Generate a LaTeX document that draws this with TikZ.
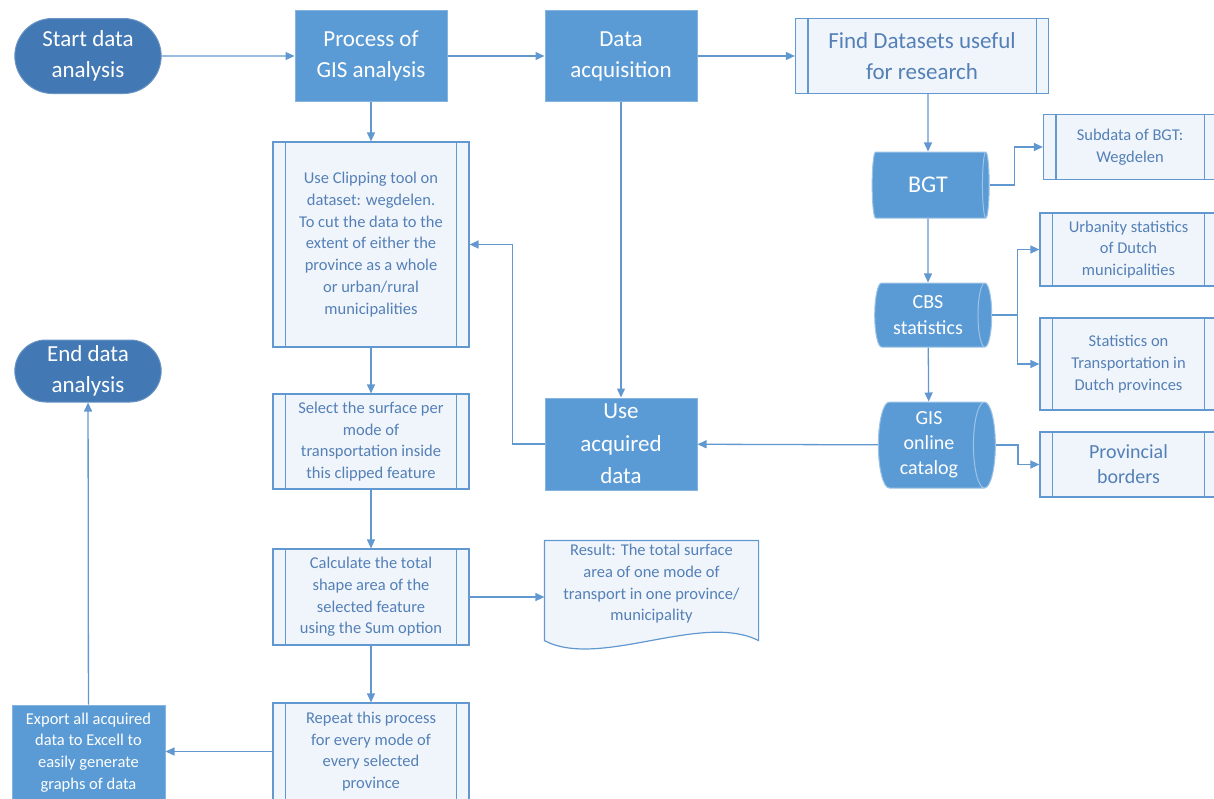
\documentclass[tikz,border=0pt]{standalone}
\usepackage{fontspec}
\setmainfont{Carlito}
\usetikzlibrary{arrows.meta,shapes.geometric,shapes.misc,calc,backgrounds}

\definecolor{boxblue}{RGB}{91,155,213}
\definecolor{ovalblue}{RGB}{66,120,180}
\definecolor{lineblue}{RGB}{98,152,208}
\definecolor{paleblue}{RGB}{240,245,252}
\definecolor{textblue}{RGB}{84,128,182}

\tikzset{
  flow/.style={draw=lineblue, line width=1.3pt, -{Triangle[length=9pt,width=8pt]}},
  terminal/.style={rounded rectangle, fill=ovalblue, draw=ovalblue!80!white, line width=1pt,
    text=white, align=center, font=\fontsize{23}{31}\selectfont, minimum width=153},
  procbox/.style={rectangle, fill=boxblue, draw=boxblue!75!white, line width=1pt,
    text=white, align=center, font=\fontsize{23}{31}\selectfont, minimum width=152},
  predef/.style={rectangle, fill=paleblue, draw=lineblue, line width=1.2pt,
    text=textblue, align=center, font=\fontsize{16.5}{21.7}\selectfont},
  store/.style={cylinder, aspect=0.3, fill=boxblue, draw=boxblue!60!white, line width=1pt,
    text=white, align=center, minimum height=117},
  innerline/.style={draw=lineblue, line width=1.2pt}
}

\begin{document}
\begin{tikzpicture}[x=1pt,y=-1pt]
  \useasboundingbox (0,0) rectangle (1214,798);

  % top row
  \node[terminal, minimum height=75] (start) at (88,56) {Start data\\analysis};
  \node[procbox, minimum height=91] (gis) at (371,56) {Process of\\GIS analysis};
  \node[procbox, minimum height=91] (acq) at (621,56) {Data\\acquisition};
  \node[predef, minimum width=253, minimum height=75, font=\fontsize{23}{31}\selectfont] (find) at (922,56) {Find Datasets useful\\for research};

  % data sources
  \node[store, minimum width=66, font=\fontsize{24}{30}\selectfont] (bgt) at (928,185) {BGT};
  \node[store, minimum width=64, font=\fontsize{20}{26}\selectfont] (cbs) at (928,315) {CBS\\statistics};
  \node[store, minimum width=86, font=\fontsize{20}{25}\selectfont] (cat) at (929,445) {GIS\\online\\catalog};
  \node[predef, minimum width=173, minimum height=65] (sub) at (1130,147) {Subdata of BGT:\\Wegdelen};
  \node[predef, minimum width=177, minimum height=73] (urban) at (1128.5,249.5) {Urbanity statistics\\of Dutch\\municipalities};
  \node[predef, minimum width=177, minimum height=92] (trans) at (1128.5,364) {Statistics on\\Transportation in\\Dutch provinces};
  \node[predef, minimum width=177, minimum height=65, font=\fontsize{20}{25}\selectfont] (borders) at (1128.5,464.5) {Provincial\\borders};
  \node[procbox, minimum height=92, font=\fontsize{23}{32.5}\selectfont] (use) at (621,444) {Use\\acquired\\data};

  % GIS steps
  \node[predef, minimum width=196, minimum height=205] (clip) at (371,244.5) {Use Clipping tool on\\dataset: wegdelen.\\To cut the data to the\\extent of either the\\province as a whole\\or urban/rural\\municipalities};
  \node[predef, minimum width=196, minimum height=95] (select) at (371,441.5) {Select the surface per\\mode of\\transportation inside\\this clipped feature};
  \node[predef, minimum width=196, minimum height=96] (calc) at (371,597) {Calculate the total\\shape area of the\\selected feature\\using the Sum option};
  \node[predef, minimum width=196, minimum height=97] (repeat) at (371,751.5) {Repeat this process\\for every mode of\\every selected\\province};
  \node[predef, draw=none, fill=none, minimum width=213, minimum height=86] (result) at (651.5,584) {Result: The total surface\\area of one mode of\\transport in one province/\\municipality};
  \begin{scope}[on background layer]
    \filldraw[innerline, fill=paleblue] (result.south west) -- (result.north west) -- (result.north east)
      -- ($(result.south east)+(0,13)$) .. controls ($(result.south)+(50,-16)$) and ($(result.south)+(-52,42)$) .. ($(result.south west)+(0,13)$) -- cycle;
  \end{scope}

  % end
  \node[procbox, minimum width=153, minimum height=95, font=\fontsize{16.5}{21.7}\selectfont] (export) at (88.5,752.5) {Export all acquired\\data to Excell to\\easily generate\\graphs of data};
  \node[terminal, minimum height=62] (finish) at (88,371) {End data\\analysis};

  % side bars of the predefined process boxes
  \foreach \n in {find,sub,urban,trans,borders,clip,select,calc,repeat}{
    \draw[innerline] ($(\n.north west)+(13,0)$) -- ($(\n.south west)+(13,0)$);
    \draw[innerline] ($(\n.north east)+(-13,0)$) -- ($(\n.south east)+(-13,0)$);
  }

  % connectors
  \draw[flow] (start) -- (gis);
  \draw[flow] (gis) -- (acq);
  \draw[flow] (acq) -- (find);
  \draw[flow] (find.south -| bgt) -- (bgt);
  \draw[flow] (bgt.east) -- ++(25,0) |- (sub.west);
  \draw[flow] (bgt) -- (cbs);
  \draw[flow] (cbs.east) -- ++(25,0) |- (urban.west);
  \draw[flow] (cbs.east) -- ++(25,0) |- (trans.west);
  \draw[flow] (cbs) -- (cat);
  \draw[flow] (cat.east) -- ++(22,0) |- (borders.west);
  \draw[flow] (cat) -- (use);
  \draw[flow] (acq) -- (use);
  \draw[flow] (use.west) -- ++(-32,0) |- (clip.east);
  \draw[flow] (gis) -- (clip);
  \draw[flow] (clip) -- (select);
  \draw[flow] (select) -- (calc);
  \draw[flow] (calc.east) -- (calc.east -| result.west);
  \draw[flow] (calc) -- (repeat);
  \draw[flow] (repeat.west) -- (repeat.west -| export.east);
  \draw[flow] (export) -- (finish);
\end{tikzpicture}
\end{document}
